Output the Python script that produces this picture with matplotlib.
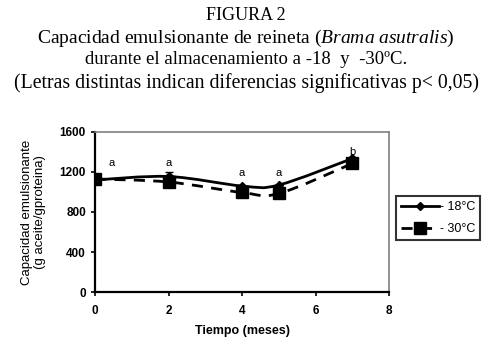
import numpy as np
import matplotlib
matplotlib.use("Agg")
import matplotlib.pyplot as plt
from matplotlib.path import Path
from matplotlib.patches import PathPatch
from matplotlib.lines import Line2D

# --- data ---
tiempo = [0, 2, 4, 5, 7]
cap_18 = [1120, 1155, 1060, 1070, 1335]
cap_30 = [1130, 1100, 995, 985, 1285]
err_18 = [0, 45, 0, 0, 0]
letras = ["a", "a", "a", "a", "b"]
letras_x = [0.45, 2, 4, 5, 7]
letras_y = [1290, 1290, 1190, 1190, 1400]

plt.rcParams['mathtext.fontset'] = 'custom'
plt.rcParams['mathtext.rm'] = 'Liberation Serif'
plt.rcParams['mathtext.it'] = 'Liberation Serif:italic'
SANS = 'Liberation Sans'
SERIF = 'Liberation Serif'


def smooth_path(xs, ys, t=1/6):
    # Excel-like smoothed line: cubic bezier through the points
    pts = np.column_stack([xs, ys]).astype(float)
    verts = [pts[0]]
    codes = [Path.MOVETO]
    n = len(pts)
    for i in range(n - 1):
        p0 = pts[i - 1] if i > 0 else pts[i]
        p1, p2 = pts[i], pts[i + 1]
        p3 = pts[i + 2] if i + 2 < n else pts[i + 1]
        c1 = p1 + (p2 - p0) * t
        c2 = p2 - (p3 - p1) * t
        verts += [c1, c2, p2]
        codes += [Path.CURVE4] * 3
    return Path(verts, codes)


fig = plt.figure(figsize=(4.92, 3.47), dpi=100)
ax = fig.add_axes([0.193, 0.1585, 0.598, 0.4611])

ax.add_patch(PathPatch(smooth_path(tiempo, cap_18), fill=False, color='black', lw=2))
ax.add_patch(PathPatch(smooth_path(tiempo, cap_30), fill=False, color='black', lw=2,
                       linestyle=(0, (4, 3))))
ax.plot(tiempo, cap_18, 'D', color='black', ms=4.5, zorder=4)
ax.plot(tiempo, cap_30, 's', color='black', ms=8, zorder=3)
ax.errorbar(tiempo, cap_18, yerr=[np.zeros(5), err_18], fmt='none', ecolor='black',
            elinewidth=1, capsize=3, zorder=4)

for x, y, s in zip(letras_x, letras_y, letras):
    ax.text(x, y, s, fontsize=8, family=SANS, ha='center', va='center')

ax.set_xlim(0, 8)
ax.set_ylim(0, 1600)
ax.set_xticks([0, 2, 4, 6, 8])
ax.set_yticks([0, 400, 800, 1200, 1600])
ax.tick_params(direction='out', length=3, width=1.2, labelsize=8.5)
for lab in ax.get_xticklabels() + ax.get_yticklabels():
    lab.set_family(SANS)
    lab.set_fontweight('bold')
for s in ['top', 'right']:
    ax.spines[s].set_color('#808080')
    ax.spines[s].set_linewidth(1.2)
for s in ['left', 'bottom']:
    ax.spines[s].set_linewidth(1.6)
ax.tick_params(axis='x', pad=6)

ax.set_xlabel("Tiempo (meses)", fontsize=9, family=SANS, fontweight='bold', labelpad=6)
ax.set_ylabel("Capacidad emulsionante\n(g aceite/gproteina)", fontsize=9.5, family=SANS,
              labelpad=10, linespacing=1.1)

handles = [Line2D([], [], color='black', lw=2, marker='D', ms=4.5),
           Line2D([], [], color='black', lw=2, linestyle=(0, (4, 3)), marker='s', ms=8)]
leg = fig.legend(handles, ["- 18°C", "- 30°C"], loc='upper left',
                 bbox_to_anchor=(396 / 492, 1 - 196 / 347), frameon=True, fancybox=False,
                 edgecolor='black', handlelength=3.0, prop={'family': SANS, 'size': 9},
                 borderpad=0.4, labelspacing=0.8, handletextpad=0.1, borderaxespad=0)
leg.get_frame().set_linewidth(1.5)

fig.text(0.5, 1 - 15 / 347, "FIGURA 2", ha='center', va='center', family=SERIF, fontsize=13)
fig.text(0.5, 1 - 38 / 347, r"Capacidad emulsionante de reineta ($\mathit{Brama\ asutralis}$)",
         ha='center', va='center', family=SERIF, fontsize=14)
fig.text(0.5, 1 - 60 / 347, "durante el almacenamiento a -18  y  -30ºC.",
         ha='center', va='center', family=SERIF, fontsize=13.5)
fig.text(0.5, 1 - 83 / 347, "(Letras distintas indican diferencias significativas p< 0,05)",
         ha='center', va='center', family=SERIF, fontsize=14.2)

fig.savefig("out.png", dpi=100)
